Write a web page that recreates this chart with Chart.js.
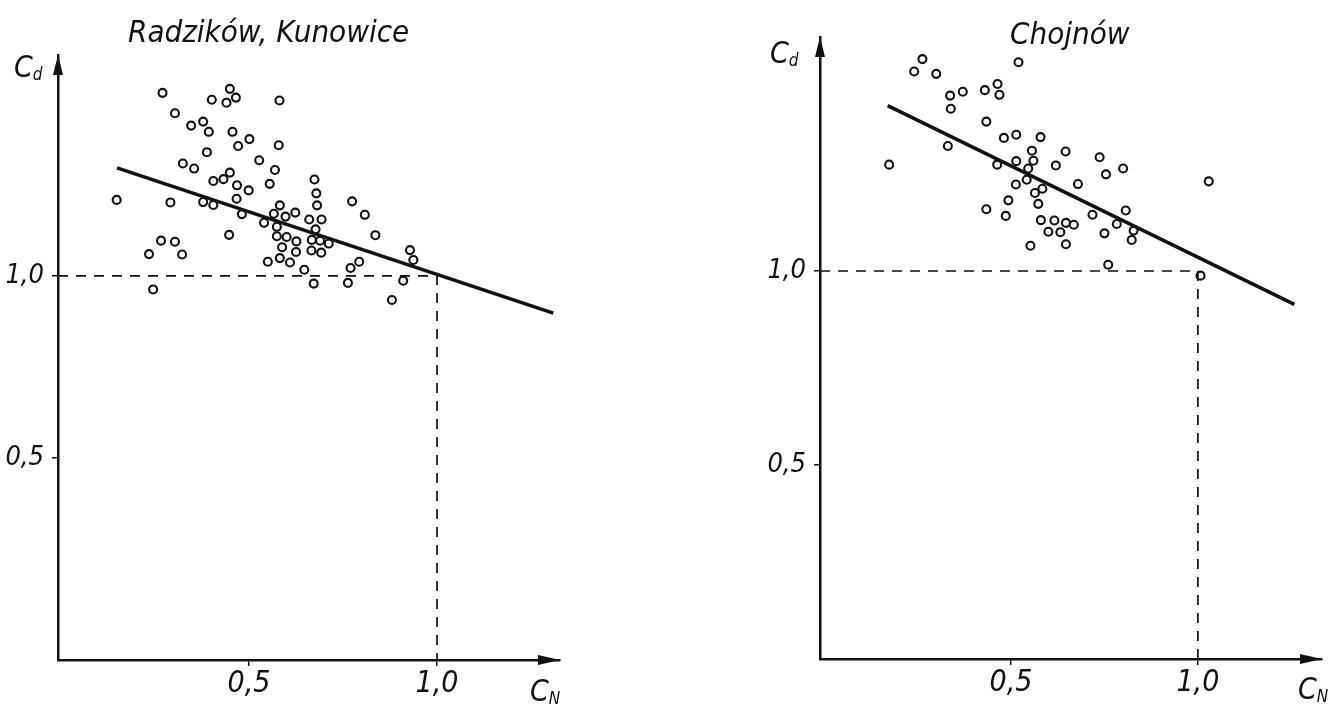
<!DOCTYPE html>
<html>
<head>
<meta charset="utf-8">
<script src="https://cdn.jsdelivr.net/npm/chart.js@4.4.1/dist/chart.umd.min.js"></script>
<style>
  html, body { margin: 0; padding: 0; background: #fff; }
  body {
    width: 1334px; height: 707px; position: relative; overflow: hidden;
    font-family: 'Liberation Sans Narrow', 'DejaVu Sans Condensed', sans-serif;
    font-style: italic; color: #111;
  }
  canvas { position: absolute; top: 0; }
  #left-chart { left: 0; }
  #right-chart { left: 667px; }
  .lbl { position: absolute; white-space: nowrap; line-height: 1; }
  .title { font-size: 31px; }
  .axis { font-size: 30px; }
  .axis sub { font-size: 17px; vertical-align: -3px; }
</style>
</head>
<body>
<canvas id="left-chart" width="667" height="707"></canvas>
<canvas id="right-chart" width="667" height="707"></canvas>

<div class="lbl title" style="left:128px; top:16px;">Radzików, Kunowice</div>
<div class="lbl axis" style="left:14px; top:52px;">C<sub>d</sub></div>
<div class="lbl axis" style="left:530px; top:676px;">C<sub>N</sub></div>

<div class="lbl title" style="left:1010px; top:18px;">Chojnów</div>
<div class="lbl axis" style="left:770px; top:38px;">C<sub>d</sub></div>
<div class="lbl axis" style="left:1298px; top:674px;">C<sub>N</sub></div>

<script>
// Radzików, Kunowice: C_N (x) and C_d (y)
const leftCn = [0.270, 0.449, 0.465, 0.401, 0.440, 0.581, 0.303, 0.346, 0.378, 0.393,
                0.456, 0.501, 0.471, 0.579, 0.388, 0.527, 0.324, 0.354, 0.569, 0.449,
                0.432, 0.405, 0.468, 0.555, 0.499, 0.148, 0.291, 0.378, 0.405, 0.467,
                0.481, 0.582, 0.566, 0.540, 0.597, 0.447, 0.266, 0.303, 0.234, 0.322,
                0.574, 0.574, 0.588, 0.550, 0.582, 0.245, 0.623, 0.600, 0.626, 0.625,
                0.609, 0.647, 0.674, 0.679, 0.681, 0.693, 0.660, 0.677, 0.667, 0.689,
                0.712, 0.666, 0.692, 0.672, 0.774, 0.808, 0.836, 0.793, 0.770, 0.763,
                0.928, 0.937, 0.910, 0.880];
const leftCd = [1.503, 1.514, 1.490, 1.484, 1.476, 1.482, 1.447, 1.413, 1.424, 1.396,
                1.396, 1.376, 1.357, 1.359, 1.340, 1.318, 1.309, 1.295, 1.291, 1.284,
                1.266, 1.261, 1.249, 1.253, 1.235, 1.209, 1.202, 1.203, 1.195, 1.212,
                1.170, 1.194, 1.171, 1.146, 1.163, 1.113, 1.097, 1.094, 1.060, 1.059,
                1.135, 1.109, 1.079, 1.039, 1.049, 0.963, 1.174, 1.107, 1.095, 1.066,
                1.037, 1.017, 1.265, 1.227, 1.194, 1.155, 1.155, 1.128, 1.099, 1.097,
                1.089, 1.070, 1.064, 0.979, 1.205, 1.168, 1.112, 1.039, 1.022, 0.981,
                1.071, 1.044, 0.987, 0.934];
const leftFitCn = [0.149, 1.309];
const leftFitCd = [1.297, 0.898];

// Chojnów
const rightCn = [0.263, 0.241, 0.300, 0.520, 0.337, 0.371, 0.430, 0.464, 0.469, 0.339,
                 0.434, 0.481, 0.514, 0.579, 0.331, 0.174, 0.463, 0.514, 0.556, 0.560,
                 0.546, 0.542, 0.513, 0.564, 0.493, 0.573, 0.434, 0.486, 0.580, 0.552,
                 0.584, 0.646, 0.620, 0.679, 0.600, 0.616, 0.632, 0.647, 0.668, 0.647,
                 0.737, 0.754, 0.800, 0.718, 0.750, 0.783, 0.807, 0.828, 0.823, 0.760,
                 1.007, 1.029];
const rightCd = [1.546, 1.514, 1.508, 1.538, 1.452, 1.462, 1.466, 1.482, 1.454, 1.418,
                 1.385, 1.343, 1.351, 1.345, 1.322, 1.274, 1.274, 1.283, 1.310, 1.284,
                 1.264, 1.235, 1.223, 1.201, 1.182, 1.173, 1.159, 1.142, 1.131, 1.065,
                 1.212, 1.308, 1.272, 1.224, 1.101, 1.130, 1.100, 1.124, 1.119, 1.069,
                 1.293, 1.249, 1.264, 1.145, 1.097, 1.121, 1.156, 1.104, 1.080, 1.016,
                 0.988, 1.231];
const rightFitCn = [0.170, 1.258];
const rightFitCd = [1.426, 0.914];

// shared ticks and the C_N = C_d = 1,0 reference point
const tickValues = [0.5, 1.0];
const refPoint = [1.0, 1.0];

const INK = '#111';
const FONT = "'Liberation Sans Narrow', 'DejaVu Sans Condensed', sans-serif";
const fmt = v => Number(v).toFixed(1).replace('.', ',');
const pairs = (xs, ys) => xs.map((x, i) => ({ x, y: ys[i] }));

const axisArrows = {
    id: 'axisArrows',
    afterDraw(chart) {
        const { ctx, chartArea: a } = chart;
        ctx.save();
        ctx.fillStyle = INK;
        ctx.beginPath();
        ctx.moveTo(a.left, a.top);
        ctx.lineTo(a.left - 5, a.top + 20);
        ctx.lineTo(a.left + 5, a.top + 20);
        ctx.closePath();
        ctx.fill();
        ctx.beginPath();
        ctx.moveTo(a.right, a.bottom);
        ctx.lineTo(a.right - 22, a.bottom - 5);
        ctx.lineTo(a.right - 22, a.bottom + 5);
        ctx.closePath();
        ctx.fill();
        ctx.restore();
    }
};

function makePanel(id, cn, cd, fitCn, fitCd, box) {
    const ref = [
        { x: box.xMin, y: refPoint[1] },
        { x: refPoint[0], y: refPoint[1] },
        { x: refPoint[0], y: box.yMin }
    ];
    return new Chart(document.getElementById(id), {
        type: 'scatter',
        data: {
            datasets: [
                {
                    data: ref,
                    showLine: true,
                    borderColor: INK,
                    borderWidth: 1.7,
                    borderDash: [10, 8],
                    pointRadius: 0,
                    clip: false
                },
                {
                    data: pairs(fitCn, fitCd),
                    showLine: true,
                    borderColor: INK,
                    borderWidth: 3.5,
                    pointRadius: 0
                },
                {
                    data: pairs(cn, cd),
                    pointRadius: 4,
                    borderWidth: 2.1,
                    borderColor: INK,
                    backgroundColor: '#fff'
                }
            ]
        },
        options: {
            responsive: false,
            animation: false,
            layout: { padding: { left: box.padLeft, top: box.padTop, right: box.padRight, bottom: 0 } },
            plugins: { legend: { display: false }, tooltip: { enabled: false } },
            scales: {
                x: {
                    type: 'linear',
                    min: box.xMin,
                    max: box.xMax,
                    afterBuildTicks: s => { s.ticks = tickValues.map(v => ({ value: v })); },
                    afterFit: s => { s.height = box.bottomH; },
                    border: { display: true, color: INK, width: 2.5 },
                    grid: { drawOnChartArea: false, drawTicks: true, tickLength: 6, color: INK, lineWidth: 1.5 },
                    ticks: {
                        color: INK, padding: 0, maxRotation: 0, autoSkip: false,
                        font: { family: FONT, size: 30, style: 'italic' },
                        callback: v => fmt(v)
                    }
                },
                y: {
                    type: 'linear',
                    min: box.yMin,
                    max: box.yMax,
                    afterBuildTicks: s => { s.ticks = tickValues.map(v => ({ value: v })); },
                    afterFit: s => { s.width = box.axisW; },
                    border: { display: true, color: INK, width: 2.5 },
                    grid: { drawOnChartArea: false, drawTicks: true, tickLength: 6, color: INK, lineWidth: 1.5 },
                    ticks: {
                        color: INK, padding: 8,
                        font: { family: FONT, size: 27, style: 'italic' },
                        callback: v => fmt(v)
                    }
                }
            }
        },
        plugins: [axisArrows]
    });
}

makePanel('left-chart', leftCn, leftCd, leftFitCn, leftFitCd, {
    xMin: -0.008, xMax: 1.327, yMin: -0.055, yMax: 1.607,
    padLeft: 0, padTop: 55, padRight: 107, axisW: 58, bottomH: 47
});
makePanel('right-chart', rightCn, rightCd, rightFitCn, rightFitCd, {
    xMin: -0.011, xMax: 1.332, yMin: 0.0, yMax: 1.603,
    padLeft: 95, padTop: 37, padRight: 12, axisW: 58, bottomH: 48
});
</script>
</body>
</html>
